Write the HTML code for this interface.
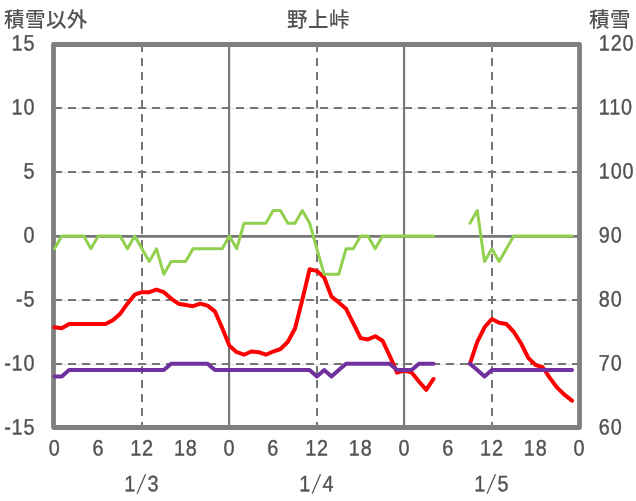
<!DOCTYPE html>
<html lang="ja"><head><meta charset="utf-8"><title>野上峠</title>
<style>html,body{margin:0;padding:0;background:#fff}svg{display:block}text{font-family:"Liberation Sans","Noto Sans CJK JP",sans-serif;fill:#535353}.n{letter-spacing:0.93px;stroke:#535353;stroke-width:0.4px}.j{font-weight:500;letter-spacing:0.45px}</style></head><body>
<svg width="636" height="501" viewBox="0 0 636 501">
<rect width="636" height="501" fill="#fff"/>
<line x1="53.50" y1="108.50" x2="579.50" y2="108.50" stroke="#dedede" stroke-width="1"/>
<line x1="54" y1="108.00" x2="579.50" y2="108.00" stroke="#767676" stroke-width="2" stroke-dasharray="8 6"/>
<line x1="53.50" y1="172.50" x2="579.50" y2="172.50" stroke="#dedede" stroke-width="1"/>
<line x1="54" y1="172.00" x2="579.50" y2="172.00" stroke="#767676" stroke-width="2" stroke-dasharray="8 6"/>
<line x1="53.50" y1="300.50" x2="579.50" y2="300.50" stroke="#dedede" stroke-width="1"/>
<line x1="54" y1="300.00" x2="579.50" y2="300.00" stroke="#767676" stroke-width="2" stroke-dasharray="8 6"/>
<line x1="53.50" y1="364.50" x2="579.50" y2="364.50" stroke="#dedede" stroke-width="1"/>
<line x1="54" y1="364.00" x2="579.50" y2="364.00" stroke="#767676" stroke-width="2" stroke-dasharray="8 6"/>
<line x1="53.50" y1="236.4" x2="579.50" y2="236.4" stroke="#767676" stroke-width="2.8"/>
<line x1="142.00" y1="44" x2="142.00" y2="427.50" stroke="#767676" stroke-width="2" stroke-dasharray="8 6"/>
<line x1="317.00" y1="44" x2="317.00" y2="427.50" stroke="#767676" stroke-width="2" stroke-dasharray="8 6"/>
<line x1="492.00" y1="44" x2="492.00" y2="427.50" stroke="#767676" stroke-width="2" stroke-dasharray="8 6"/>
<line x1="229.10" y1="44.50" x2="229.10" y2="427.50" stroke="#767676" stroke-width="2.15"/>
<line x1="404.05" y1="44.50" x2="404.05" y2="427.50" stroke="#767676" stroke-width="2.15"/>
<rect x="53.50" y="44.50" width="526.00" height="383.00" fill="none" stroke="#7f7f7f" stroke-width="4.8" stroke-linejoin="round"/>
<polyline points="54.50,327.28 61.79,328.30 69.08,324.09 76.37,324.09 83.66,324.09 90.94,324.09 98.23,324.09 105.52,324.09 112.81,320.26 120.10,313.88 127.39,303.66 134.68,294.73 141.97,292.17 149.26,292.17 156.54,289.62 163.83,292.17 171.12,298.56 178.41,303.66 185.70,304.94 192.99,306.22 200.28,303.66 207.57,305.58 214.86,311.32 222.14,327.92 229.43,345.79 236.72,352.18 244.01,354.73 251.30,351.54 258.59,352.18 265.88,354.73 273.17,351.54 280.46,348.99 287.74,341.96 295.03,328.56 302.32,299.83 309.61,269.19 316.90,271.11 324.19,277.49 331.48,296.64 338.77,302.39 346.06,308.77 353.34,323.45 360.63,338.13 367.92,339.41 375.21,336.22 382.50,340.69 389.79,356.01 397.08,372.60 404.37,370.69 411.66,372.60 418.94,381.54 426.23,389.84 433.52,378.99" fill="none" stroke="#ff0000" stroke-width="4" stroke-linecap="round" stroke-linejoin="round"/>
<polyline points="469.97,363.67 477.26,341.96 484.54,327.28 491.83,318.98 499.12,322.81 506.41,324.09 513.70,331.75 520.99,343.24 528.28,357.92 535.57,364.94 542.86,367.50 550.14,378.35 557.43,387.92 564.72,394.94 572.01,400.69" fill="none" stroke="#ff0000" stroke-width="4" stroke-linecap="round" stroke-linejoin="round"/>
<polyline points="54.50,248.77 61.79,236.00 69.08,236.00 76.37,236.00 83.66,236.00 90.94,248.77 98.23,236.00 105.52,236.00 112.81,236.00 120.10,236.00 127.39,248.77 134.68,236.00 141.97,248.77 149.26,261.53 156.54,248.77 163.83,274.30 171.12,261.53 178.41,261.53 185.70,261.53 192.99,248.77 200.28,248.77 207.57,248.77 214.86,248.77 222.14,248.77 229.43,236.00 236.72,248.77 244.01,223.23 251.30,223.23 258.59,223.23 265.88,223.23 273.17,210.47 280.46,210.47 287.74,223.23 295.03,223.23 302.32,210.47 309.61,223.23 316.90,248.77 324.19,274.30 331.48,274.30 338.77,274.30 346.06,248.77 353.34,248.77 360.63,236.00 367.92,236.00 375.21,248.77 382.50,236.00 389.79,236.00 397.08,236.00 404.37,236.00 411.66,236.00 418.94,236.00 426.23,236.00 433.52,236.00" fill="none" stroke="#92d050" stroke-width="3" stroke-linecap="round" stroke-linejoin="round"/>
<polyline points="469.97,223.23 477.26,210.47 484.54,261.53 491.83,248.77 499.12,261.53 506.41,248.77 513.70,236.00 520.99,236.00 528.28,236.00 535.57,236.00 542.86,236.00 550.14,236.00 557.43,236.00 564.72,236.00 572.01,236.00" fill="none" stroke="#92d050" stroke-width="3" stroke-linecap="round" stroke-linejoin="round"/>
<polyline points="54.50,376.43 61.79,376.43 69.08,370.05 76.37,370.05 83.66,370.05 90.94,370.05 98.23,370.05 105.52,370.05 112.81,370.05 120.10,370.05 127.39,370.05 134.68,370.05 141.97,370.05 149.26,370.05 156.54,370.05 163.83,370.05 171.12,363.67 178.41,363.67 185.70,363.67 192.99,363.67 200.28,363.67 207.57,363.67 214.86,370.05 222.14,370.05 229.43,370.05 236.72,370.05 244.01,370.05 251.30,370.05 258.59,370.05 265.88,370.05 273.17,370.05 280.46,370.05 287.74,370.05 295.03,370.05 302.32,370.05 309.61,370.05 316.90,376.43 324.19,370.05 331.48,376.43 338.77,370.05 346.06,363.67 353.34,363.67 360.63,363.67 367.92,363.67 375.21,363.67 382.50,363.67 389.79,363.67 397.08,370.05 404.37,370.05 411.66,370.05 418.94,363.67 426.23,363.67 433.52,363.67" fill="none" stroke="#7030a0" stroke-width="4" stroke-linecap="round" stroke-linejoin="round"/>
<polyline points="469.97,363.67 477.26,370.05 484.54,376.43 491.83,370.05 499.12,370.05 506.41,370.05 513.70,370.05 520.99,370.05 528.28,370.05 535.57,370.05 542.86,370.05 550.14,370.05 557.43,370.05 564.72,370.05 572.01,370.05" fill="none" stroke="#7030a0" stroke-width="4" stroke-linecap="round" stroke-linejoin="round"/>
<text transform="translate(35.3,434.50) rotate(0.03) scale(0.89,1.0)" font-size="22.3" class="n" text-anchor="end">-15</text>
<text transform="translate(35.3,370.50) rotate(0.03) scale(0.89,1.0)" font-size="22.3" class="n" text-anchor="end">-10</text>
<text transform="translate(35.3,306.50) rotate(0.03) scale(0.89,1.0)" font-size="22.3" class="n" text-anchor="end">-5</text>
<text transform="translate(35.3,242.50) rotate(0.03) scale(0.89,1.0)" font-size="22.3" class="n" text-anchor="end">0</text>
<text transform="translate(35.3,178.50) rotate(0.03) scale(0.89,1.0)" font-size="22.3" class="n" text-anchor="end">5</text>
<text transform="translate(35.3,114.50) rotate(0.03) scale(0.89,1.0)" font-size="22.3" class="n" text-anchor="end">10</text>
<text transform="translate(35.3,50.50) rotate(0.03) scale(0.89,1.0)" font-size="22.3" class="n" text-anchor="end">15</text>
<text transform="translate(598.8,434.50) rotate(0.03) scale(0.89,1.0)" font-size="22.3" class="n" text-anchor="start">60</text>
<text transform="translate(598.8,370.50) rotate(0.03) scale(0.89,1.0)" font-size="22.3" class="n" text-anchor="start">70</text>
<text transform="translate(598.8,306.50) rotate(0.03) scale(0.89,1.0)" font-size="22.3" class="n" text-anchor="start">80</text>
<text transform="translate(598.8,242.50) rotate(0.03) scale(0.89,1.0)" font-size="22.3" class="n" text-anchor="start">90</text>
<text transform="translate(598.8,178.50) rotate(0.03) scale(0.89,1.0)" font-size="22.3" class="n" text-anchor="start">100</text>
<text transform="translate(598.8,114.50) rotate(0.03) scale(0.89,1.0)" font-size="22.3" class="n" text-anchor="start">110</text>
<text transform="translate(598.8,50.50) rotate(0.03) scale(0.89,1.0)" font-size="22.3" class="n" text-anchor="start">120</text>
<text transform="translate(54.60,455.5) rotate(0.03) scale(0.89,1.0)" font-size="22.3" class="n" text-anchor="middle">0</text>
<text transform="translate(98.33,455.5) rotate(0.03) scale(0.89,1.0)" font-size="22.3" class="n" text-anchor="middle">6</text>
<text transform="translate(142.07,455.5) rotate(0.03) scale(0.89,1.0)" font-size="22.3" class="n" text-anchor="middle">12</text>
<text transform="translate(185.80,455.5) rotate(0.03) scale(0.89,1.0)" font-size="22.3" class="n" text-anchor="middle">18</text>
<text transform="translate(229.53,455.5) rotate(0.03) scale(0.89,1.0)" font-size="22.3" class="n" text-anchor="middle">0</text>
<text transform="translate(273.27,455.5) rotate(0.03) scale(0.89,1.0)" font-size="22.3" class="n" text-anchor="middle">6</text>
<text transform="translate(317.00,455.5) rotate(0.03) scale(0.89,1.0)" font-size="22.3" class="n" text-anchor="middle">12</text>
<text transform="translate(360.73,455.5) rotate(0.03) scale(0.89,1.0)" font-size="22.3" class="n" text-anchor="middle">18</text>
<text transform="translate(404.47,455.5) rotate(0.03) scale(0.89,1.0)" font-size="22.3" class="n" text-anchor="middle">0</text>
<text transform="translate(448.20,455.5) rotate(0.03) scale(0.89,1.0)" font-size="22.3" class="n" text-anchor="middle">6</text>
<text transform="translate(491.93,455.5) rotate(0.03) scale(0.89,1.0)" font-size="22.3" class="n" text-anchor="middle">12</text>
<text transform="translate(535.67,455.5) rotate(0.03) scale(0.89,1.0)" font-size="22.3" class="n" text-anchor="middle">18</text>
<text transform="translate(579.40,455.5) rotate(0.03) scale(0.89,1.0)" font-size="22.3" class="n" text-anchor="middle">0</text>
<text transform="translate(141.97,491.3) rotate(0.03) scale(0.89,1.0)" font-size="22.3" class="n"><tspan x="-19.83">1</tspan><tspan font-family="WenQuanYi Zen Hei,sans-serif" font-size="22.8" stroke-width="0" x="-6.63" dy="-1.6">/</tspan><tspan x="6.35" dy="1.6">3</tspan></text>
<text transform="translate(316.90,491.3) rotate(0.03) scale(0.89,1.0)" font-size="22.3" class="n"><tspan x="-19.83">1</tspan><tspan font-family="WenQuanYi Zen Hei,sans-serif" font-size="22.8" stroke-width="0" x="-6.63" dy="-1.6">/</tspan><tspan x="6.35" dy="1.6">4</tspan></text>
<text transform="translate(491.83,491.3) rotate(0.03) scale(0.89,1.0)" font-size="22.3" class="n"><tspan x="-19.83">1</tspan><tspan font-family="WenQuanYi Zen Hei,sans-serif" font-size="22.8" stroke-width="0" x="-6.63" dy="-1.6">/</tspan><tspan x="6.35" dy="1.6">5</tspan></text>
<text x="4" y="27" font-size="20.5" class="j">積雪以外</text>
<text x="318.5" y="27" font-size="20.5" class="j" text-anchor="middle">野上峠</text>
<text x="631.0" y="27" font-size="20.5" class="j" text-anchor="end">積雪</text>
</svg>
</body></html>
